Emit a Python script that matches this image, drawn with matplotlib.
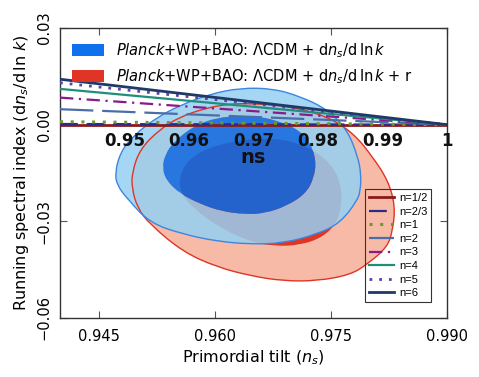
import numpy as np
import matplotlib
matplotlib.use("Agg")
import matplotlib.pyplot as plt
from matplotlib.path import Path
from matplotlib.patches import PathPatch, Patch

plt.rcParams['font.family'] = ['DejaVu Sans']
plt.rcParams['mathtext.fontset'] = 'dejavusans'

# Planck contours, outlines (n_s, dn_s/dlnk)
blue95_ns = [0.9633, 0.9675, 0.9710, 0.9745, 0.9771, 0.9785, 0.9789, 0.9788, 0.9784, 0.9762,
             0.9732, 0.9688, 0.9646, 0.9603, 0.9559, 0.9516, 0.9487, 0.9474, 0.9471, 0.9478,
             0.9494, 0.9525, 0.9559, 0.9594]
blue95_run = [0.0114, 0.0112, 0.0088, 0.0048, -0.0015, -0.0100, -0.0156, -0.0205, -0.0236, -0.0305,
              -0.0340, -0.0368, -0.0371, -0.0362, -0.0340, -0.0305, -0.0230, -0.0189, -0.0150, -0.0086,
              -0.0036, 0.0023, 0.0064, 0.0095]

blue68_ns = [0.9633, 0.9658, 0.9688, 0.9710, 0.9723, 0.9731, 0.9728, 0.9717, 0.9693, 0.9665,
             0.9639, 0.9609, 0.9581, 0.9555, 0.9537, 0.9532, 0.9536, 0.9546, 0.9572, 0.9603]
blue68_run = [0.0026, 0.0026, 0.0007, -0.0019, -0.0054, -0.0111, -0.0167, -0.0215, -0.0252, -0.0275,
              -0.0278, -0.0269, -0.0246, -0.0214, -0.0173, -0.0131, -0.0093, -0.0055, -0.0005, 0.0023]

red95_ns = [0.9649, 0.9697, 0.9745, 0.9779, 0.9804, 0.9824, 0.9833, 0.9830, 0.9823, 0.9797,
            0.9775, 0.9732, 0.9688, 0.9646, 0.9603, 0.9559, 0.9516, 0.9500, 0.9493, 0.9493,
            0.9503, 0.9529, 0.9555, 0.9585, 0.9616]
red95_run = [0.0066, 0.0057, 0.0026, -0.0026, -0.0100, -0.0174, -0.0252, -0.0326, -0.0380, -0.0433,
             -0.0466, -0.0485, -0.0485, -0.0469, -0.0442, -0.0395, -0.0309, -0.0258, -0.0198, -0.0150,
             -0.0077, -0.0014, 0.0024, 0.0049, 0.0064]

red68_ns = [0.9553, 0.9564, 0.9594, 0.9633, 0.9671, 0.9704, 0.9732, 0.9753, 0.9763, 0.9764,
            0.9758, 0.9739, 0.9710, 0.9678, 0.9646, 0.9603, 0.9574, 0.9558]
red68_run = [-0.0172, -0.0110, -0.0069, -0.0048, -0.0041, -0.0054, -0.0085, -0.0131, -0.0187, -0.0243,
             -0.0305, -0.0350, -0.0374, -0.0377, -0.0364, -0.0315, -0.0262, -0.0220]

# inflation model lines (inset axis ns from 0.94 to 1)
model_ns = [0.94, 1.0]
model_names = ['n=1/2', 'n=2/3', 'n=1', 'n=2', 'n=3', 'n=4', 'n=5', 'n=6']
model_run_start = [0.0, 0.0002, 0.0009, 0.0048, 0.0084, 0.0111, 0.0130, 0.0141]
model_run_end = [0.0, 0.0, 0.0, 0.0, 0.0, 0.0, 0.0, 0.0]
model_colors = ['#8b1a1a', '#2b2b8c', '#6b9a2e', '#4a6ea8', '#8a1a8a', '#1f8f7a', '#6040a8', '#1f3a68']
model_styles = ['-', (0, (8, 4)), (0, (1, 2.5)), (0, (15, 4)), (0, (6, 2.5, 1, 2.5)), '-', (0, (1, 2.5)), '-']
model_widths = [2.0, 1.6, 2.2, 1.6, 1.6, 1.6, 2.0, 2.0]

inset_ticks = [0.95, 0.96, 0.97, 0.98, 0.99, 1.0]
inset_ticklabels = ['0.95', '0.96', '0.97', '0.98', '0.99', '1']


def smooth_closed(xs, ys, reverse=False):
    # traced points used as control points of a closed quadratic bezier chain
    pts = np.column_stack([xs, ys])
    area = 0.5 * np.sum(pts[:, 0] * np.roll(pts[:, 1], -1) - np.roll(pts[:, 0], -1) * pts[:, 1])
    if (area < 0) != reverse:
        pts = pts[::-1]
    mids = 0.5 * (pts + np.roll(pts, -1, axis=0))
    verts = [mids[-1]]
    codes = [Path.MOVETO]
    for p, m in zip(pts, mids):
        verts += [p, m]
        codes += [Path.CURVE3, Path.CURVE3]
    verts.append(mids[-1])
    codes.append(Path.CLOSEPOLY)
    return np.array(verts), codes


def shape(xs, ys):
    v, c = smooth_closed(xs, ys)
    return Path(v, c)


def ring(ox, oy, ix, iy):
    v1, c1 = smooth_closed(ox, oy)
    v2, c2 = smooth_closed(ix, iy, reverse=True)
    return Path(np.vstack([v1, v2]), c1 + c2)


fig = plt.figure(figsize=(4.79, 3.77), dpi=100)
pos = [60 / 479, 59 / 377, 387 / 479, 290 / 377]
ax = fig.add_axes(pos)

# red (with r) contours
ax.add_patch(PathPatch(shape(red95_ns, red95_run), facecolor='#f7baa6', edgecolor='none', zorder=1))
ax.add_patch(PathPatch(shape(red68_ns, red68_run), facecolor='#e03424', edgecolor='none', zorder=1.1))

# blue contours, semi-transparent
ax.add_patch(PathPatch(ring(blue95_ns, blue95_run, blue68_ns, blue68_run),
                       facecolor='#95d0f3', edgecolor='none', alpha=0.85, zorder=1.2))
ax.add_patch(PathPatch(shape(blue68_ns, blue68_run), facecolor='#036ceb', edgecolor='none',
                       alpha=0.85, zorder=1.3))

# outlines
ax.add_patch(PathPatch(shape(red95_ns, red95_run), facecolor='none', edgecolor='#e03424', lw=1.0,
                       zorder=1.4))
ax.add_patch(PathPatch(shape(blue95_ns, blue95_run), facecolor='none', edgecolor='#3b86e3', lw=1.0,
                       zorder=1.5))

ax.set_xlim(0.940, 0.990)
ax.set_ylim(-0.06, 0.03)
ax.set_xticks([0.945, 0.960, 0.975, 0.990])
ax.set_xticklabels(['0.945', '0.960', '0.975', '0.990'])
ax.set_yticks([-0.06, -0.03, 0.0, 0.03])
ax.set_yticklabels(['\u22120.06', '\u22120.03', '0.00', '0.03'], rotation=90, va='center')
ax.tick_params(direction='in', top=True, right=True, labelsize=10.5, length=5, width=0.8,
               color='#555555')
ax.tick_params(axis='x', pad=8)
ax.tick_params(axis='y', pad=6)
for s in ax.spines.values():
    s.set_linewidth(1.0)
    s.set_color('#333333')
ax.set_xlabel('Primordial tilt $(n_s)$', fontsize=11.5, labelpad=3)
ax.set_ylabel(r'Running spectral index $(\mathrm{d}n_s/\mathrm{d}\,\ln\,k)$', fontsize=11.5, labelpad=4)

# overlaid model plot
ax2 = fig.add_axes(pos)
ax2.patch.set_visible(False)
for s in ax2.spines.values():
    s.set_visible(False)
ax2.set_xlim(0.94, 1.0)
ax2.set_ylim(-0.06, 0.03)
ax2.set_yticks([])
ax2.spines['bottom'].set_position(('data', 0))
handles = []
for i, name in enumerate(model_names):
    ln, = ax2.plot(model_ns, [model_run_start[i], model_run_end[i]], color=model_colors[i],
                   linestyle=model_styles[i], lw=model_widths[i], label=name, zorder=3 + 0.1 * i)
    handles.append(ln)
ax2.set_xticks(inset_ticks)
ax2.set_xticklabels(inset_ticklabels, fontsize=12, fontweight='bold', color='#111111')
ax2.tick_params(axis='x', length=0, pad=5)
ax2.set_xlabel('ns', fontsize=14, fontweight='bold', labelpad=-1, color='#111111')

leg2 = ax2.legend(handles=handles, loc='lower right', bbox_to_anchor=(0.959, 0.055),
                  borderaxespad=0, fancybox=False, framealpha=1, facecolor='none',
                  edgecolor='#333333', handlelength=2.3, labelspacing=0.32, borderpad=0.35,
                  handletextpad=0.4, prop={'family': 'Liberation Sans', 'size': 8})
leg2.get_frame().set_linewidth(0.8)
ax2.add_artist(leg2)

planck_handles = [Patch(facecolor='#0f71eb', edgecolor='none'),
                  Patch(facecolor='#e03424', edgecolor='none')]
planck_labels = [r'$\mathit{Planck}$+WP+BAO: $\Lambda$CDM + d$n_s$/d$\,$ln$\,k$',
                 r'$\mathit{Planck}$+WP+BAO: $\Lambda$CDM + d$n_s$/d$\,$ln$\,k$ + r']
ax2.legend(planck_handles, planck_labels, loc='upper left', bbox_to_anchor=(0.017, 0.975),
           borderaxespad=0, frameon=False, fontsize=10.5, handlelength=2.2, handleheight=0.85,
           labelspacing=0.5, handletextpad=0.8)

fig.savefig('out.png', dpi=100)
